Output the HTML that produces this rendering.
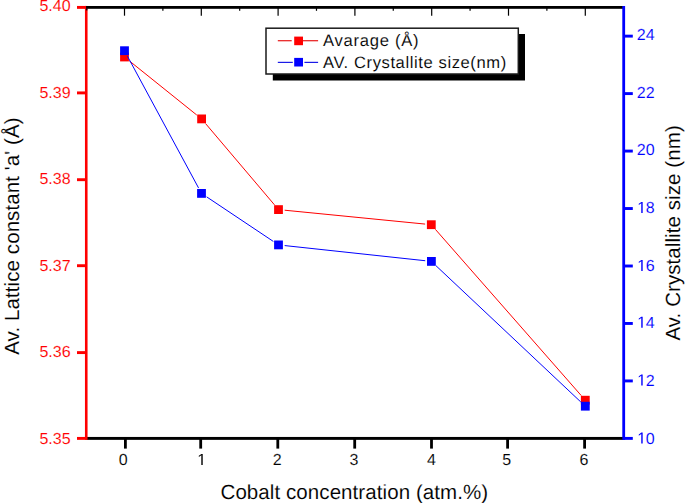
<!DOCTYPE html><html><head><meta charset="utf-8"><style>html,body{margin:0;padding:0;background:#fff;overflow:hidden;}svg{display:block;}text{font-family:"Liberation Sans",sans-serif;stroke:#fff;stroke-width:0.1px;text-rendering:geometricPrecision;}</style></head><body>
<svg width="685" height="503" viewBox="0 0 685 503">
<rect width="685" height="503" fill="#fff"/>
<rect x="272.8" y="34" width="252.2" height="46.5" fill="#000"/>
<rect x="266" y="28.2" width="252.3" height="45.8" fill="#fff" stroke="#1a1a1a" stroke-width="1.5"/>
<rect x="277.8" y="40.15" width="13.9" height="1.15" fill="#e61010"/><rect x="303" y="40.15" width="15.1" height="1.15" fill="#e61010"/>
<rect x="294.2" y="36.6" width="8.8" height="8.6" fill="#f00"/>
<rect x="277.8" y="61.8" width="15" height="1.15" fill="#1010e6"/><rect x="304.4" y="61.8" width="13.7" height="1.15" fill="#1010e6"/>
<rect x="294.2" y="57.9" width="8.8" height="8.6" fill="#00f"/>
<text x="323" y="46.1" font-size="16.6" letter-spacing="0.74" fill="#000">Avarage (Å)</text>
<text x="323" y="67.9" font-size="16.6" letter-spacing="0.59" fill="#000">AV. Crystallite size(nm)</text>
<path fill="none" stroke="#f00" stroke-width="1.0" d="M129.33,60.88L196.77,115.02M205.61,123.63L274.49,204.87M284.67,210.21L425.13,224.09M435.39,229.36L581.21,395.54"/>
<rect x="120.1" y="52.6" width="8.8" height="8.8" fill="#f00"/>
<rect x="197.2" y="114.5" width="8.8" height="8.8" fill="#f00"/>
<rect x="274.1" y="205.2" width="8.8" height="8.8" fill="#f00"/>
<rect x="426.9" y="220.3" width="8.8" height="8.8" fill="#f00"/>
<rect x="580.9" y="395.8" width="8.8" height="8.8" fill="#f00"/>
<path fill="none" stroke="#00f" stroke-width="1.0" d="M127.44,56.16L198.56,187.94M206.65,196.85L273.35,241.45M284.66,245.57L425.24,260.73M435.92,265.65L580.78,401.95"/>
<rect x="120.1" y="46.3" width="8.8" height="8.8" fill="#00f"/>
<rect x="197.1" y="189.0" width="8.8" height="8.8" fill="#00f"/>
<rect x="274.1" y="240.5" width="8.8" height="8.8" fill="#00f"/>
<rect x="427.0" y="257.0" width="8.8" height="8.8" fill="#00f"/>
<rect x="580.9" y="401.8" width="8.8" height="8.8" fill="#00f"/>
<rect x="86.25" y="436.95" width="537.45" height="2.9" fill="#000"/>
<rect x="124.00" y="438.40" width="2.8" height="10.20" fill="#000"/>
<text x="118.85" y="465.00" font-size="16" fill="#000">0</text>
<rect x="199.30" y="438.40" width="2.8" height="10.20" fill="#000"/>
<path d="M583,0L583,1237L265,1010L265,1180L598,1409L764,1409L764,0Z" fill="#000" transform="translate(196.75,465.00) scale(0.007812,-0.007812)"/>
<rect x="276.40" y="438.40" width="2.8" height="10.20" fill="#000"/>
<text x="272.75" y="465.00" font-size="16" fill="#000">2</text>
<rect x="353.30" y="438.40" width="2.8" height="10.20" fill="#000"/>
<text x="349.55" y="465.00" font-size="16" fill="#000">3</text>
<rect x="430.10" y="438.40" width="2.8" height="10.20" fill="#000"/>
<text x="426.95" y="465.00" font-size="16" fill="#000">4</text>
<rect x="506.20" y="438.40" width="2.8" height="10.20" fill="#000"/>
<text x="502.35" y="465.00" font-size="16" fill="#000">5</text>
<rect x="583.20" y="438.40" width="2.8" height="10.20" fill="#000"/>
<text x="579.45" y="465.00" font-size="16" fill="#000">6</text>
<rect x="84.95" y="5.95" width="2.6" height="433.90" fill="#f00"/>
<rect x="77" y="5.95" width="9.25" height="2.9" fill="#f00"/>
<text x="70.6" y="10.70" font-size="16" text-anchor="end" fill="#f00">5.40</text>
<rect x="77" y="91.45" width="9.25" height="2.9" fill="#f00"/>
<text x="70.6" y="97.70" font-size="16" text-anchor="end" fill="#f00">5.39</text>
<rect x="77" y="178.25" width="9.25" height="2.9" fill="#f00"/>
<text x="70.6" y="183.50" font-size="16" text-anchor="end" fill="#f00">5.38</text>
<rect x="77" y="264.25" width="9.25" height="2.9" fill="#f00"/>
<text x="70.6" y="270.50" font-size="16" text-anchor="end" fill="#f00">5.37</text>
<rect x="77" y="351.15" width="9.25" height="2.9" fill="#f00"/>
<text x="70.6" y="356.50" font-size="16" text-anchor="end" fill="#f00">5.36</text>
<rect x="77" y="436.95" width="9.25" height="2.9" fill="#f00"/>
<text x="70.6" y="443.50" font-size="16" text-anchor="end" fill="#f00">5.35</text>
<rect x="86.1" y="6.00" width="537.60" height="2.8" fill="#000"/>
<rect x="86.1" y="8.6" width="1.3" height="1.8" fill="#000"/>
<line x1="124.50" y1="7.40" x2="124.50" y2="15.7" stroke="#000" stroke-width="1.2"/>
<line x1="201.30" y1="7.40" x2="201.30" y2="15.7" stroke="#000" stroke-width="1.2"/>
<line x1="278.10" y1="7.40" x2="278.10" y2="15.7" stroke="#000" stroke-width="1.2"/>
<line x1="354.90" y1="7.40" x2="354.90" y2="15.7" stroke="#000" stroke-width="1.2"/>
<line x1="431.70" y1="7.40" x2="431.70" y2="15.7" stroke="#000" stroke-width="1.2"/>
<line x1="508.50" y1="7.40" x2="508.50" y2="15.7" stroke="#000" stroke-width="1.2"/>
<line x1="585.30" y1="7.40" x2="585.30" y2="15.7" stroke="#000" stroke-width="1.2"/>
<line x1="162.88" y1="7.40" x2="162.88" y2="10.8" stroke="#000" stroke-width="1.2"/>
<line x1="239.68" y1="7.40" x2="239.68" y2="10.8" stroke="#000" stroke-width="1.2"/>
<line x1="316.48" y1="7.40" x2="316.48" y2="10.8" stroke="#000" stroke-width="1.2"/>
<line x1="393.27" y1="7.40" x2="393.27" y2="10.8" stroke="#000" stroke-width="1.2"/>
<line x1="470.07" y1="7.40" x2="470.07" y2="10.8" stroke="#000" stroke-width="1.2"/>
<line x1="546.88" y1="7.40" x2="546.88" y2="10.8" stroke="#000" stroke-width="1.2"/>
<rect x="622.30" y="6.00" width="2.8" height="433.85" fill="#00f"/>
<rect x="623.70" y="436.94" width="9.10" height="2.9" fill="#00f"/>
<path d="M583,0L583,1237L265,1010L265,1180L598,1409L764,1409L764,0Z" fill="#00f" transform="translate(636.70,443.60) scale(0.007812,-0.007812)"/><text x="645.70" y="443.60" font-size="16" fill="#00f" letter-spacing="0.10">0</text>
<rect x="623.70" y="379.48" width="9.10" height="2.9" fill="#00f"/>
<path d="M583,0L583,1237L265,1010L265,1180L598,1409L764,1409L764,0Z" fill="#00f" transform="translate(636.70,385.50) scale(0.007812,-0.007812)"/><text x="645.70" y="385.50" font-size="16" fill="#00f" letter-spacing="0.10">2</text>
<rect x="623.70" y="322.01" width="9.10" height="2.9" fill="#00f"/>
<path d="M583,0L583,1237L265,1010L265,1180L598,1409L764,1409L764,0Z" fill="#00f" transform="translate(636.70,327.70) scale(0.007812,-0.007812)"/><text x="645.70" y="327.70" font-size="16" fill="#00f" letter-spacing="0.10">4</text>
<rect x="623.70" y="264.55" width="9.10" height="2.9" fill="#00f"/>
<path d="M583,0L583,1237L265,1010L265,1180L598,1409L764,1409L764,0Z" fill="#00f" transform="translate(636.70,270.90) scale(0.007812,-0.007812)"/><text x="645.70" y="270.90" font-size="16" fill="#00f" letter-spacing="0.10">6</text>
<rect x="623.70" y="207.08" width="9.10" height="2.9" fill="#00f"/>
<path d="M583,0L583,1237L265,1010L265,1180L598,1409L764,1409L764,0Z" fill="#00f" transform="translate(636.70,212.90) scale(0.007812,-0.007812)"/><text x="645.70" y="212.90" font-size="16" fill="#00f" letter-spacing="0.10">8</text>
<rect x="623.70" y="149.62" width="9.10" height="2.9" fill="#00f"/>
<text x="636.70" y="154.70" font-size="16" fill="#00f" letter-spacing="0.10">20</text>
<rect x="623.70" y="92.15" width="9.10" height="2.9" fill="#00f"/>
<text x="636.70" y="97.90" font-size="16" fill="#00f" letter-spacing="0.10">22</text>
<rect x="623.70" y="34.68" width="9.10" height="2.9" fill="#00f"/>
<text x="636.70" y="39.90" font-size="16" fill="#00f" letter-spacing="0.10">24</text>
<text x="220.5" y="498.6" font-size="20.5" letter-spacing="0.08" fill="#000">Cobalt concentration (atm.%)</text>
<text transform="translate(19.0,354.8) rotate(-90)" font-size="20.5" letter-spacing="0.09" fill="#000">Av. Lattice constant 'a' (Å)</text>
<text transform="translate(680.0,340.6) rotate(-90)" font-size="20.5" letter-spacing="0.08" fill="#000">Av. Crystallite size (nm)</text>
</svg></body></html>
